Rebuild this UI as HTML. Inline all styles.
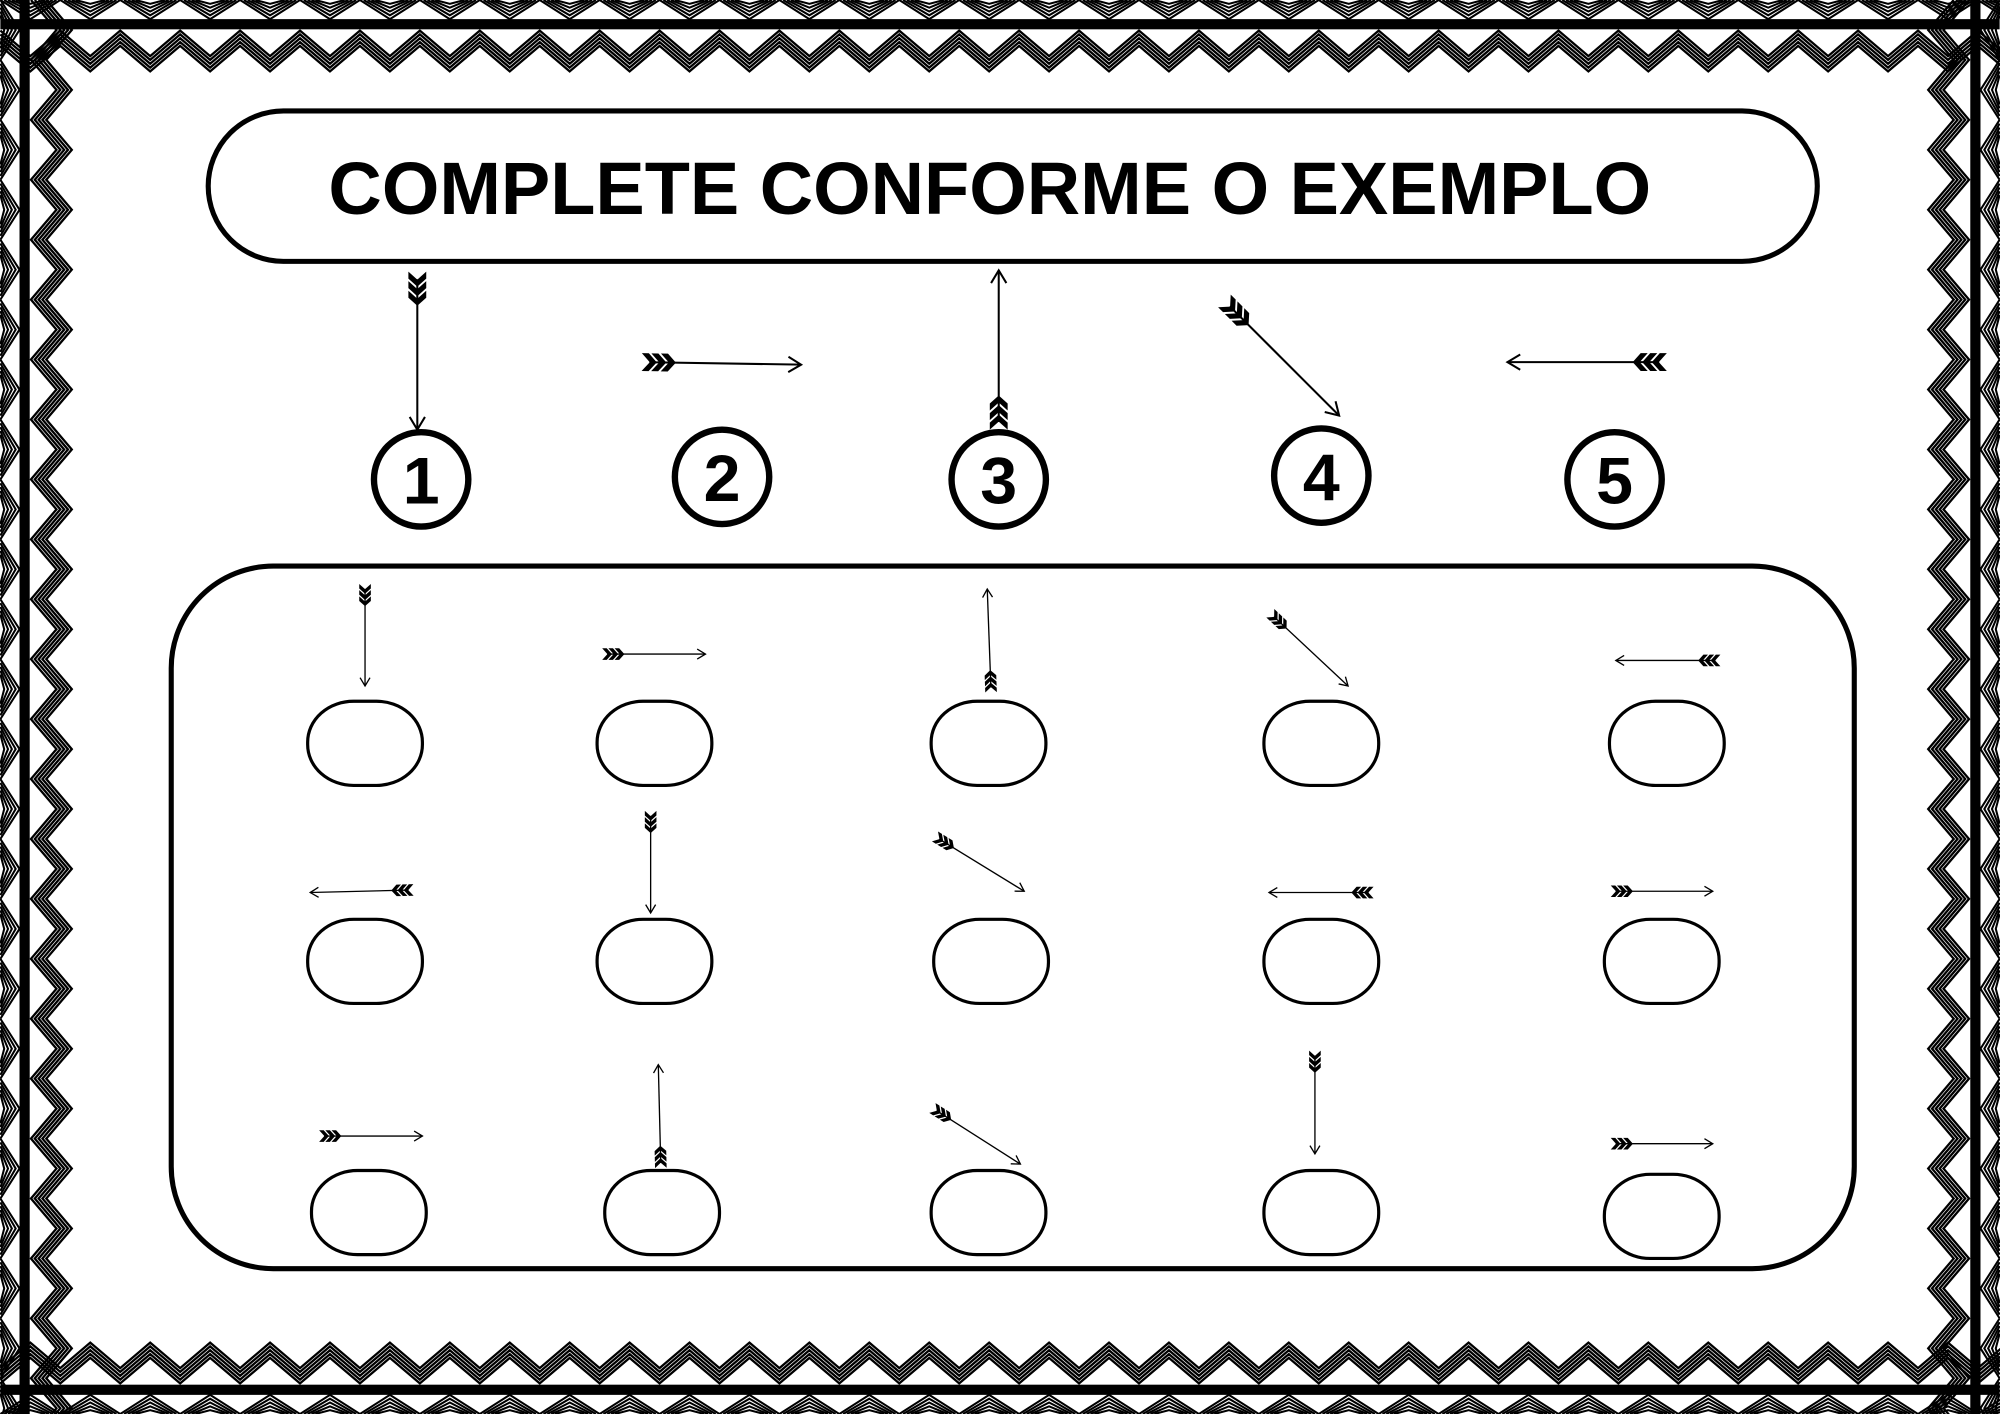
<!DOCTYPE html>
<html><head><meta charset="utf-8"><style>
html,body{margin:0;padding:0;background:#fff}
svg{display:block}
</style></head><body>
<svg id="s" width="2000" height="1414" viewBox="0 0 1568 1109" xmlns="http://www.w3.org/2000/svg">
<g id="border"></g>
<rect x="163" y="87" width="1262" height="118" rx="59" fill="#fff" stroke="#000" stroke-width="4"/>
<text x="776" y="168" text-anchor="middle" font-family="Liberation Sans, sans-serif" font-weight="bold" font-size="58" fill="#000">COMPLETE CONFORME O EXEMPLO</text>
<rect x="134" y="444" width="1320" height="551" rx="80" fill="none" stroke="#000" stroke-width="4"/>
<g id="g" fill="none" stroke="#000"></g>
<g font-family="Liberation Sans, sans-serif" font-weight="bold" font-size="52" text-anchor="middle" fill="#000">
<text x="330" y="395">1</text><text x="566" y="393">2</text><text x="783" y="395">3</text><text x="1036" y="392">4</text><text x="1266" y="395">5</text>
</g>
</svg>
<script>
const NS="http://www.w3.org/2000/svg";
const g=document.getElementById('g'),b=document.getElementById('border');
function el(p,t,a){const e=document.createElementNS(NS,t);for(const k in a)e.setAttribute(k,a[k]);p.appendChild(e);return e;}
[[330,376],[566,374],[783,376],[1036,373],[1266,376]].forEach(c=>el(g,'circle',{cx:c[0],cy:c[1],r:37,'stroke-width':5}));
const ov=[[286,583],[513,583],[775,583],[1036,583],[1307,583],[286,754],[513,754],[777,754],[1036,754],[1303,754],[289,951],[519,951],[775,951],[1036,951],[1303,954]];
ov.forEach(c=>el(g,'rect',{x:c[0]-45,y:c[1]-33,width:90,height:66,rx:36,ry:32,'stroke-width':2.5}));
function arrow(x1,y1,x2,y2,s){
 const dx=x2-x1,dy=y2-y1,L=Math.hypot(dx,dy),ux=dx/L,uy=dy/L,px=-uy,py=ux;
 el(g,'line',{x1:x1+ux*6*s,y1:y1+uy*6*s,x2:x2,y2:y2,'stroke-width':1.6*s});
 const h=10*s,w=6*s;
 el(g,'polyline',{points:`${x2-ux*h+px*w},${y2-uy*h+py*w} ${x2},${y2} ${x2-ux*h-px*w},${y2-uy*h-py*w}`,'stroke-width':1.6*s,fill:'none'});
 const fw=7*s,th=5.5*s;
 for(let i=0;i<3;i++){const t=i*7.5*s,bx=x1+ux*t,by=y1+uy*t;
  const A=[bx+px*fw,by+py*fw],T=[bx+ux*fw*0.9,by+uy*fw*0.9],B=[bx-px*fw,by-py*fw];
  const P=[A,T,B,[B[0]+ux*th,B[1]+uy*th],[T[0]+ux*th,T[1]+uy*th],[A[0]+ux*th,A[1]+uy*th]];
  el(g,'polygon',{points:P.map(p=>p.join(',')).join(' '),fill:'#000',stroke:'none'});}
}
[[327,213,327,337],[503,284,628,286],[783,337,783,212],[960,236,1050,326],[1307,284,1182,284]].forEach(a=>arrow(...a,1));
[[286,458,286,538],[472,513,553,513],[777,543,774,462],[996,481,1057,538],[1349,518,1267,518],
[324,698,243,700],[510,636,510,716],[733,656,803,699],[1077,700,995,700],[1263,699,1343,699],
[250,891,331,891],[518,916,516,835],[731,869,800,913],[1031,824,1031,905],[1263,897,1343,897]].forEach(a=>arrow(...a,0.65));
const W=1568,H=1109;
el(b,'rect',{x:0,y:0,width:W,height:H,fill:'#fff'});
function band(horiz,pos,len,dir){
 const per=47;
 for(let t=0;t<len;t+=per){
  for(let k=0;k<5;k++){
   const o=k*3;
   let pts;
   if(horiz) pts=`${t+o},${pos} ${t+per/2},${pos+dir*(15-o)} ${t+per-o},${pos}`;
   else pts=`${pos},${t+o} ${pos+dir*(15-o)},${t+per/2} ${pos},${t+per-o}`;
   el(b,'polyline',{points:pts,fill:'none',stroke:'#000','stroke-width':1.6});
  }
 }
 if(horiz) el(b,'rect',{x:0,y:dir>0?pos+15:pos-23,width:len,height:8,fill:'#000'});
 else el(b,'rect',{x:dir>0?pos+15:pos-23,y:0,width:8,height:len,fill:'#000'});
 for(let k=0;k<5;k++){
  let pts=[];
  for(let t=0;t<=len+per;t+=per/2){
   const i=Math.round(t/(per/2));
   const d=(i%2?44:24)+k*3;
   pts.push(horiz?`${t},${pos+dir*d}`:`${pos+dir*d},${t}`);
  }
  el(b,'polyline',{points:pts.join(' '),fill:'none',stroke:'#000','stroke-width':1.8});
 }
}
band(true,0,W,1);band(true,H,W,-1);band(false,0,H,1);band(false,W,H,-1);
</script>
</body></html>
